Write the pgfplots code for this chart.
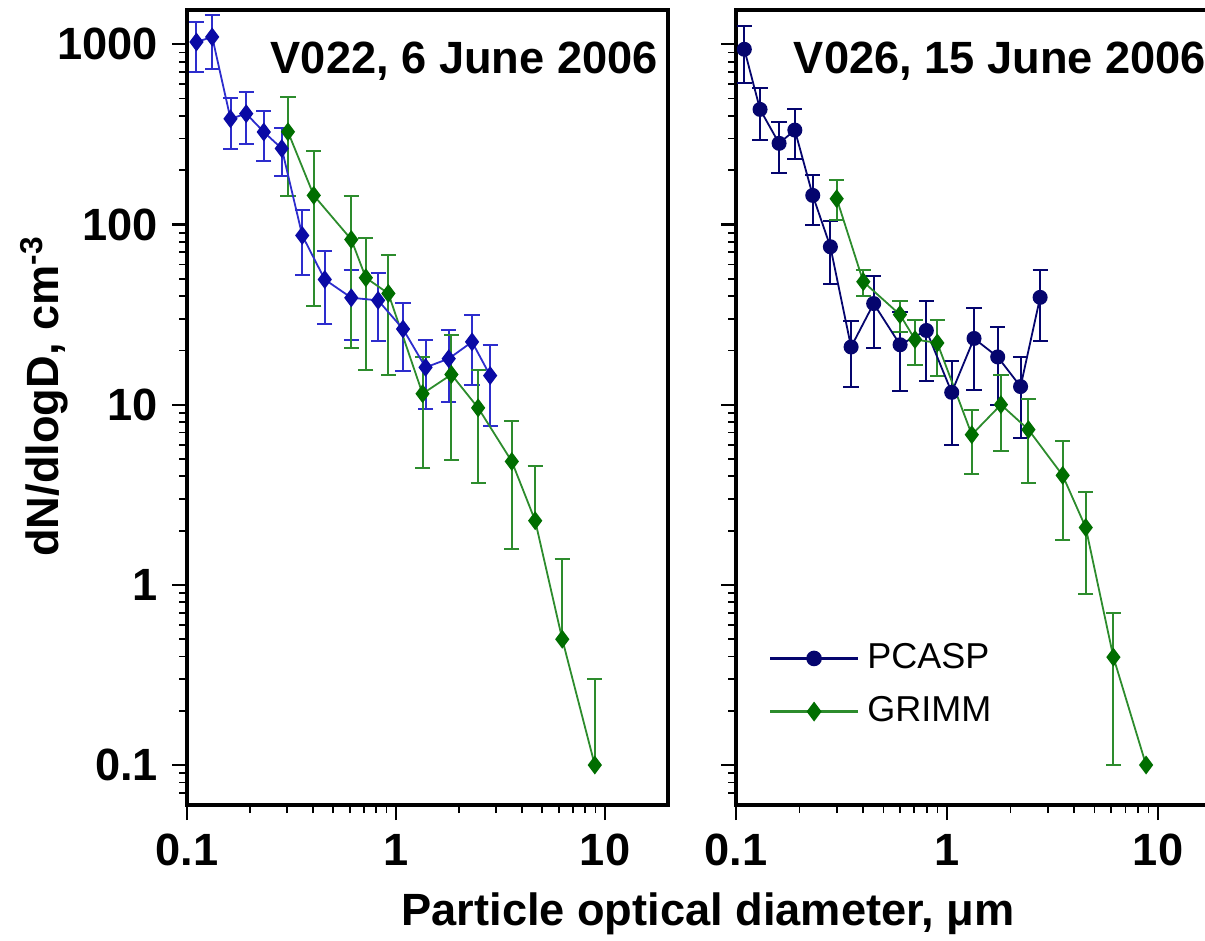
\documentclass[border=0pt]{standalone}
\usepackage{fontspec}
\setmainfont{Liberation Sans}
\usepackage{pgfplots}
\usepackage{pgfplotstable}
\pgfplotsset{compat=1.18}

\definecolor{pblue}{RGB}{10,10,165}
\definecolor{pbar}{RGB}{45,45,205}
\definecolor{pnavy}{RGB}{5,5,110}
\definecolor{gmark}{RGB}{0,110,0}
\definecolor{gline}{RGB}{45,140,45}

% x y lo hi  (lo/hi = ends of the error bar)
\pgfplotstableread{
x y lo hi
0.111 1030 702 1330
0.132 1098 733 1455
0.1615 386 261 506
0.192 412 281 540
0.233 326 225 427
0.284 264 185 344
0.356 86.9 52.7 120
0.456 49.5 28.1 71.1
0.611 39.2 22.8 56.2
0.821 37.9 22.5 53.9
1.08 26.3 15.3 36.7
1.384 16.1 9.46 22.8
1.787 18.0 10.3 25.9
2.31 22.3 12.8 31.6
2.82 14.5 7.57 21.3
}\tabLP

\pgfplotstableread{
x y lo hi
0.304 327 143 509
0.404 145 35.2 255
0.611 82.5 20.6 143
0.717 50.6 15.5 84.3
0.919 41.4 14.6 68.1
1.339 11.5 4.45 18.4
1.84 14.7 4.94 24.5
2.47 9.6 3.67 15.6
3.58 4.84 1.58 8.07
4.63 2.27 2.27 4.54
6.24 0.499 0.499 1.4
8.93 0.1 0.1 0.3
}\tabLG

\pgfplotstableread{
x y lo hi
0.1095 938 607 1264
0.130 435 296 570
0.160 282 192 372
0.190 334 230 435
0.231 145 99 188
0.280 75.2 46.8 104
0.351 20.9 12.5 29.1
0.449 36.4 20.6 51.6
0.599 21.5 11.9 32.6
0.798 25.8 13.6 37.8
1.052 11.7 6.0 17.5
1.342 23.3 12.0 34.2
1.738 18.4 10.0 27.0
2.23 12.6 6.5 18.4
2.76 39.4 22.5 56.2
}\tabRP

\pgfplotstableread{
x y lo hi
0.300 139 106 176
0.401 48.1 40.3 55.7
0.598 31.6 25.4 37.8
0.705 23.0 16.5 29.4
0.899 22.0 14.4 29.4
1.31 6.81 4.14 9.37
1.80 10.0 5.54 14.6
2.43 7.27 3.67 10.7
3.53 4.05 1.78 6.31
4.54 2.08 0.89 3.26
6.14 0.397 0.1 0.697
8.77 0.1 0.1 0.1
}\tabRG

\begin{document}
\begin{tikzpicture}[mytitle/.style={anchor=base west, inner sep=0pt, font=\fontsize{11.3}{13}\selectfont\bfseries}]

% left panel: V022
\begin{axis}[
  scale only axis, width=120.25pt, height=198.75pt,
  anchor=south west, at={(46.75pt,33.75pt)},
  xmode=log, ymode=log,
  xmin=0.1, xmax=20, ymin=0.06, ymax=1550,
  xtick={0.1,1,10}, xticklabels={0.1,1,10},
  ytick={0.1,1,10,100,1000}, yticklabels={0.1,1,10,100,1000},
  minor xtick={0.2,0.3,0.4,0.5,0.6,0.7,0.8,0.9,2,3,4,5,6,7,8,9},
  minor ytick={0.07,0.08,0.09,0.2,0.3,0.4,0.5,0.6,0.7,0.8,0.9,2,3,4,5,6,7,8,9,20,30,40,50,60,70,80,90,200,300,400,500,600,700,800,900},
  tick align=outside, xtick pos=left, ytick pos=left,
  major tick length=3.75pt, minor tick length=2pt,
  axis line style={line width=0.8pt},
  major tick style={line width=0.55pt, black},
  minor tick style={line width=0.45pt, black},
  tick label style={font=\fontsize{11.3}{13}\selectfont\bfseries},
]
\addplot[draw=none, mark=none, forget plot,
  error bars/.cd, y dir=both, y explicit,
  error bar style={draw=pbar, line width=0.5pt},
  error mark options={rotate=90, draw=pbar, line width=0.5pt, mark size=1.9pt}]
  table[x=x, y=y, y error plus expr=\thisrow{hi}-\thisrow{y}, y error minus expr=\thisrow{y}-\thisrow{lo}] {\tabLP};
\addplot[draw=none, mark=none, forget plot, skip coords between index={9}{12},
  error bars/.cd, y dir=both, y explicit,
  error bar style={draw=gline, line width=0.5pt},
  error mark options={rotate=90, draw=gline, line width=0.5pt, mark size=1.9pt}]
  table[x=x, y=y, y error plus expr=\thisrow{hi}-\thisrow{y}, y error minus expr=\thisrow{y}-\thisrow{lo}] {\tabLG};
\addplot[draw=none, mark=none, forget plot, skip coords between index={0}{9},
  error bars/.cd, y dir=plus, y explicit,
  error bar style={draw=gline, line width=0.5pt},
  error mark options={rotate=90, draw=gline, line width=0.5pt, mark size=1.9pt}]
  table[x=x, y=y, y error plus expr=\thisrow{hi}-\thisrow{y}, y error minus expr=\thisrow{y}-\thisrow{lo}] {\tabLG};
\addplot[color=gline, line width=0.45pt, mark=diamond*, mark size=2pt, mark options={fill=gmark, draw=gmark, solid}] table[x=x, y=y] {\tabLG};
\addplot[color=pbar, line width=0.45pt, mark=diamond*, mark size=2pt, mark options={fill=pblue, draw=pblue, solid}] table[x=x, y=y] {\tabLP};
\node[mytitle] at (rel axis cs:0.1726,0.9195) {V022, 6 June 2006};
\end{axis}

% right panel: V026
\begin{axis}[
  scale only axis, width=121.4pt, height=198.75pt,
  anchor=south west, at={(184pt,33.75pt)},
  xmode=log, ymode=log,
  xmin=0.1, xmax=20, ymin=0.06, ymax=1550,
  xtick={0.1,1,10}, xticklabels={0.1,1,10},
  ytick={0.1,1,10,100,1000}, yticklabels={},
  minor xtick={0.2,0.3,0.4,0.5,0.6,0.7,0.8,0.9,2,3,4,5,6,7,8,9},
  minor ytick={0.07,0.08,0.09,0.2,0.3,0.4,0.5,0.6,0.7,0.8,0.9,2,3,4,5,6,7,8,9,20,30,40,50,60,70,80,90,200,300,400,500,600,700,800,900},
  tick align=outside, xtick pos=left, ytick pos=left,
  major tick length=3.75pt, minor tick length=2pt,
  axis line style={line width=0.8pt},
  major tick style={line width=0.55pt, black},
  minor tick style={line width=0.45pt, black},
  tick label style={font=\fontsize{11.3}{13}\selectfont\bfseries},
  legend style={draw=none, fill=none, at={(0.066,0.215)}, anchor=north west,
    font=\fontsize{9}{10}\selectfont, row sep=1.5pt, inner sep=0pt},
  legend cell align=left,
  legend image code/.code={\draw[mark repeat=2, mark phase=2, line width=0.6pt, #1] plot coordinates {(0pt,0pt) (11pt,0pt) (22pt,0pt)};},
]
\addplot[draw=none, mark=none, forget plot,
  error bars/.cd, y dir=both, y explicit,
  error bar style={draw=pnavy, line width=0.5pt},
  error mark options={rotate=90, draw=pnavy, line width=0.5pt, mark size=1.9pt}]
  table[x=x, y=y, y error plus expr=\thisrow{hi}-\thisrow{y}, y error minus expr=\thisrow{y}-\thisrow{lo}] {\tabRP};
\addplot[draw=none, mark=none, forget plot, skip coords between index={11}{12},
  error bars/.cd, y dir=both, y explicit,
  error bar style={draw=gline, line width=0.5pt},
  error mark options={rotate=90, draw=gline, line width=0.5pt, mark size=1.9pt}]
  table[x=x, y=y, y error plus expr=\thisrow{hi}-\thisrow{y}, y error minus expr=\thisrow{y}-\thisrow{lo}] {\tabRG};
\addplot[color=pnavy, line width=0.45pt, mark=*, mark size=1.65pt, mark options={fill=pnavy, draw=pnavy, solid}] table[x=x, y=y] {\tabRP};
\addlegendentry{PCASP}
\addplot[color=gline, line width=0.45pt, mark=diamond*, mark size=2pt, mark options={fill=gmark, draw=gmark, solid}] table[x=x, y=y] {\tabRG};
\addlegendentry{GRIMM}
\node[mytitle] at (rel axis cs:0.1175,0.9195) {V026, 15 June 2006};
\end{axis}

\node[rotate=90, font=\fontsize{11.3}{13}\selectfont\bfseries] at (11pt,136pt) {dN/dlogD, cm\textsuperscript{-3}};
\node[font=\fontsize{11.3}{13}\selectfont\bfseries] at (177pt,6.5pt) {Particle optical diameter, μm};

\pgfresetboundingbox
\useasboundingbox (0,0) rectangle (301.25pt,235pt);
\end{tikzpicture}
\end{document}
